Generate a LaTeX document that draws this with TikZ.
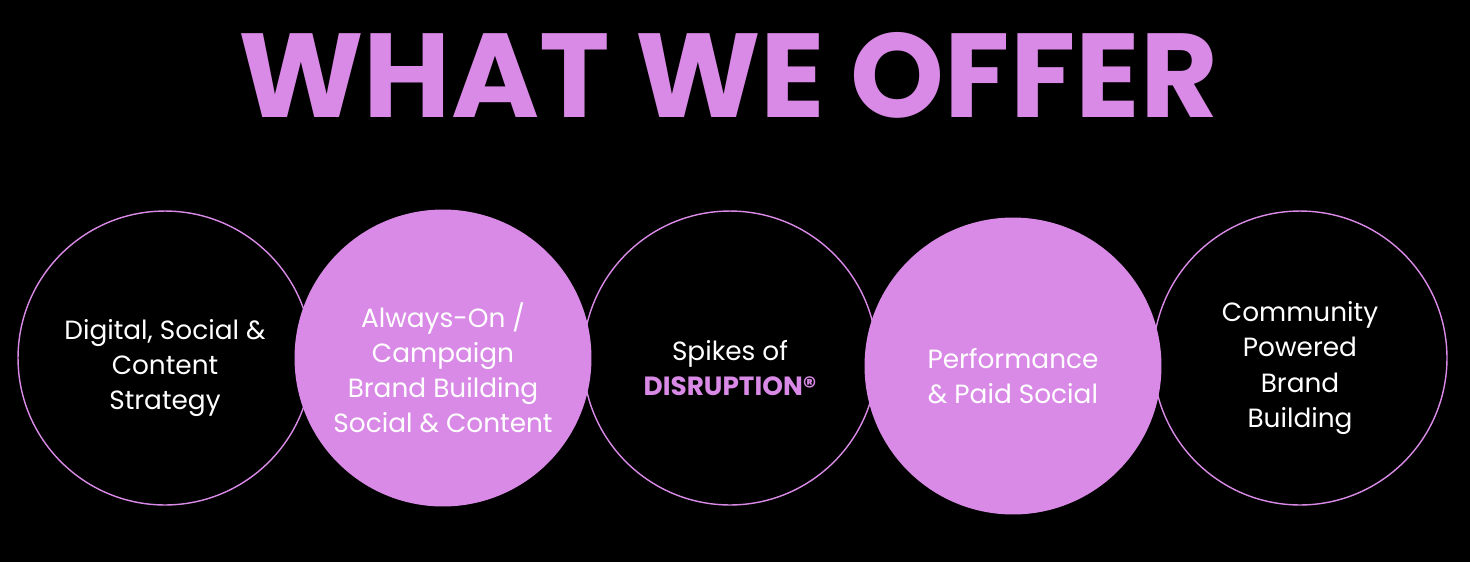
\documentclass[tikz,border=0pt]{standalone}
\usepackage{fontspec}
\setmainfont{Poppins}
\usetikzlibrary{positioning}
\definecolor{orchid}{HTML}{D98AE6}

\begin{document}
\begin{tikzpicture}[
      x=0.02cm, y=-0.02cm,
      every node/.style={font=\fontsize{15}{20}\selectfont, text=white, align=center},
      ring/.style={circle, draw=orchid, line width=0.8pt, minimum size=5.88cm, inner sep=0pt},
      disc/.style={circle, fill=orchid, minimum size=5.94cm, inner sep=0pt},
      caption/.style={yshift=-0.2cm}
   ]
   \fill[black] (0,0) rectangle (1470,562);
   \node[font=\fontsize{68}{68}\selectfont\bfseries, text=orchid] (title) at (728,75) {WHAT WE OFFER};
   % outlined circles first
   \node[ring] (strategy) at (165,358) {};
   \node[ring] (spikes) at (730,358) {};
   \node[ring] (community) at (1300,358) {};
   % filled circles on top
   \node[disc] (always) at (443,358) {};
   \node[disc] (paid) at (1013,366) {};
   % texts
   \node[caption] (strategytext) at (strategy) {Digital, Social \&\\Content\\Strategy};
   \node[caption] (spikestext) at (spikes) {Spikes of\\{\bfseries\color{orchid}DISRUPTION®}};
   \node[caption] (communitytext) at (community) {Community\\Powered\\Brand\\Building};
   \node[caption] (alwaystext) at (always) {Always-On /\\Campaign\\Brand Building\\Social \& Content};
   \node[caption] (paidtext) at (paid) {Performance\\\& Paid Social};
\end{tikzpicture}
\end{document}
